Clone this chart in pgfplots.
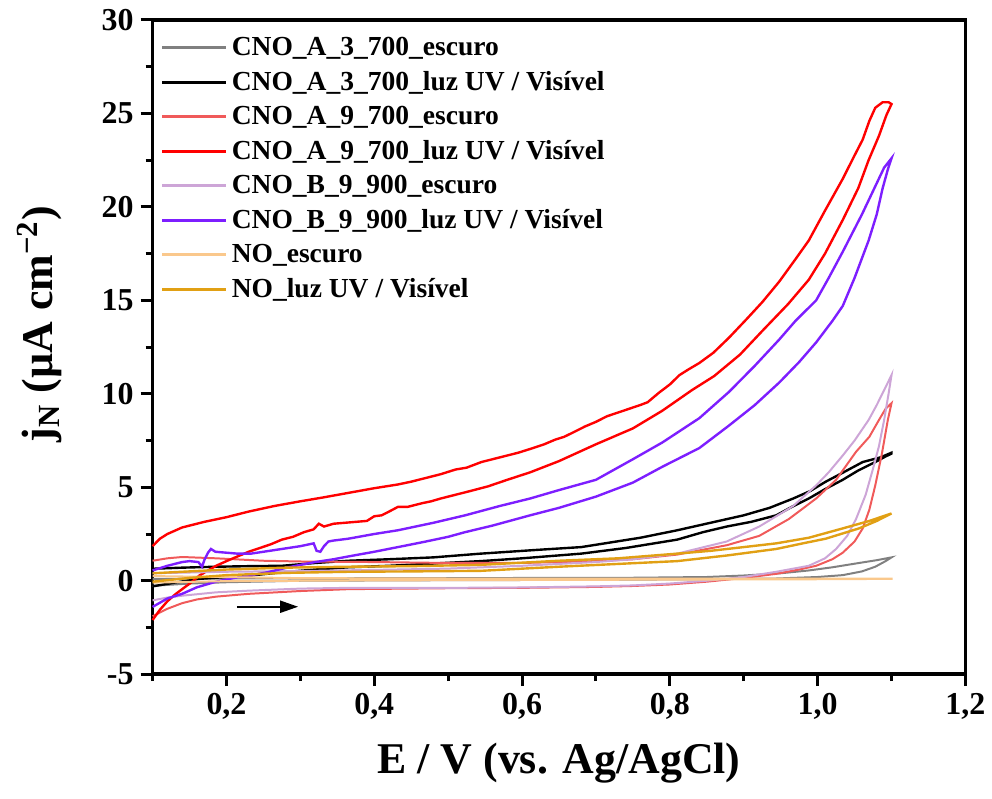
\documentclass[border=0pt]{standalone}
\usepackage{pgfplots}
\pgfplotsset{compat=1.18}
\usepackage{fontspec}
\setmainfont{Liberation Serif}
\usetikzlibrary{arrows.meta}
\definecolor{cgray}{RGB}{128,128,128}
\definecolor{csalmon}{RGB}{240,90,90}
\definecolor{cred}{RGB}{255,0,0}
\definecolor{clilac}{RGB}{205,165,215}
\definecolor{cpurple}{RGB}{125,30,255}
\definecolor{clorange}{RGB}{250,200,140}
\definecolor{cgold}{RGB}{225,160,20}
\begin{document}
\begin{tikzpicture}
\begin{axis}[
  scale only axis,
  width=407.5pt, height=328pt,
  xmin=0.1, xmax=1.2, ymin=-5, ymax=30,
  xtick={0.2,0.4,0.6,0.8,1.0,1.2},
  xticklabels={{0,2},{0,4},{0,6},{0,8},{1,0},{1,2}},
  minor xtick={0.1,0.3,0.5,0.7,0.9,1.1},
  ytick={-5,0,5,10,15,20,25,30},
  yticklabels={-5,0,5,10,15,20,25,30},
  minor ytick={-2.5,2.5,7.5,12.5,17.5,22.5,27.5},
  xtick pos=left, ytick pos=left,
  tick align=outside,
  major tick length=6pt, minor tick length=3.5pt,
  every tick/.style={black, line width=1.5pt},
  axis line style={line width=1.8pt},
  ticklabel style={font=\fontsize{16}{18}\selectfont\bfseries},
  xlabel={E / V (vs. Ag/AgCl)},
  ylabel={j\textsubscript{N} (µA cm\textsuperscript{−2})},
  label style={font=\fontsize{22}{26}\selectfont\bfseries},
  xlabel style={at={(axis description cs:0.5,0)}, anchor=center, yshift=-44.5pt},
  ylabel style={at={(axis description cs:0,0.535)}, anchor=center, yshift=56.5pt},
  legend style={at={(0,1)}, anchor=north west, xshift=1pt, yshift=-4.5pt,
    draw=none, fill=none, font=\fontsize{13.8}{16}\selectfont\bfseries,
    row sep=2.4pt},
  legend cell align=left,
  legend image code/.code={\draw[#1, line width=1.5pt] (0pt,0pt) -- (32pt,0pt);},
  clip=false,
]
\path (rel axis cs:-0.1877,-0.1905) rectangle (rel axis cs:1.0294,1.0305);

% CNO_A_3_700 escuro
\addplot[cgray, line width=1pt] coordinates {
(0.100,-0.27) (0.150,-0.15) (0.200,-0.08) (0.300,0.00) (0.500,0.03) (0.700,0.05) (0.850,0.08) (0.944,0.12) (1.000,0.20) (1.034,0.30) (1.060,0.50) (1.078,0.75) (1.092,1.05) (1.100,1.25)
(1.080,1.10) (1.056,0.95) (1.020,0.72) (0.988,0.55) (0.950,0.40) (0.900,0.28) (0.850,0.20) (0.750,0.16) (0.500,0.14) (0.300,0.13) (0.200,0.12) (0.100,0.10)};
\addlegendentry{CNO\_A\_3\_700\_escuro}

% CNO_A_3_700 luz
\addplot[black, line width=1.2pt] coordinates {
(0.100,-0.30) (0.130,-0.10) (0.163,0.10) (0.200,0.20) (0.230,0.27) (0.275,0.45) (0.320,0.60) (0.365,0.72) (0.420,0.80) (0.480,0.92) (0.544,1.05) (0.600,1.20) (0.680,1.45) (0.740,1.75) (0.810,2.20) (0.845,2.60) (0.877,2.90) (0.910,3.15) (0.944,3.50) (0.965,3.95) (0.988,4.40) (1.010,4.90) (1.034,5.40) (1.055,5.90) (1.078,6.35) (1.092,6.65) (1.100,6.80)
(1.100,6.85) (1.085,6.60) (1.061,6.35) (1.035,5.80) (1.011,5.30) (0.990,4.80) (0.967,4.40) (0.935,3.90) (0.900,3.50) (0.855,3.10) (0.810,2.70) (0.760,2.30) (0.720,2.05) (0.680,1.80) (0.620,1.65) (0.544,1.45) (0.480,1.25) (0.420,1.15) (0.365,1.07) (0.320,0.95) (0.275,0.80) (0.230,0.78) (0.186,0.75) (0.140,0.70) (0.100,0.64)};
\addlegendentry{CNO\_A\_3\_700\_luz UV / Visível}

% CNO_A_9_700 escuro
\addplot[csalmon, line width=1pt] coordinates {
(0.100,-1.90) (0.120,-1.50) (0.140,-1.20) (0.160,-1.00) (0.186,-0.85) (0.230,-0.70) (0.300,-0.55) (0.365,-0.45) (0.500,-0.40) (0.600,-0.38) (0.700,-0.33) (0.750,-0.28) (0.800,-0.20) (0.850,-0.05) (0.900,0.15) (0.944,0.37) (0.975,0.60) (0.998,0.80) (1.020,1.15) (1.034,1.50) (1.050,2.10) (1.061,2.80) (1.070,3.80) (1.078,5.10) (1.087,6.80) (1.095,8.60) (1.100,9.50)
(1.092,9.20) (1.083,8.60) (1.070,7.70) (1.052,6.90) (1.025,5.40) (0.998,4.40) (0.961,3.30) (0.921,2.40) (0.877,1.90) (0.810,1.40) (0.750,1.15) (0.700,1.05) (0.600,0.95) (0.500,0.95) (0.400,1.00) (0.300,1.03) (0.250,1.07) (0.186,1.20) (0.140,1.27) (0.120,1.20) (0.100,1.07)};
\addlegendentry{CNO\_A\_9\_700\_escuro}

% CNO_A_9_700 luz
\addplot[cred, line width=1.2pt] coordinates {
(0.100,-2.10) (0.110,-1.55) (0.120,-1.10) (0.130,-0.75) (0.140,-0.45) (0.152,-0.10) (0.163,0.27) (0.175,0.55) (0.186,0.80) (0.200,1.05) (0.215,1.30) (0.230,1.55) (0.245,1.75) (0.260,1.95) (0.275,2.20) (0.290,2.35) (0.305,2.60) (0.318,2.75) (0.325,3.05) (0.332,2.90) (0.345,3.05) (0.360,3.10) (0.375,3.15) (0.390,3.20) (0.400,3.45) (0.410,3.50) (0.420,3.70) (0.432,3.95) (0.445,3.95) (0.455,4.05) (0.465,4.15) (0.477,4.25) (0.490,4.40) (0.510,4.60) (0.530,4.80) (0.554,5.05) (0.580,5.40) (0.611,5.80) (0.650,6.40) (0.700,7.30) (0.750,8.15) (0.790,9.10) (0.830,10.20) (0.860,10.95) (0.895,12.10) (0.926,13.40) (0.960,14.80) (0.988,16.10) (1.010,17.50) (1.034,19.30) (1.055,21.00) (1.069,22.50) (1.083,23.80) (1.093,24.90) (1.100,25.50)
(1.096,25.60) (1.088,25.60) (1.078,25.30) (1.070,24.60) (1.061,23.60) (1.048,22.60) (1.034,21.50) (1.010,19.80) (0.988,18.20) (0.970,17.20) (0.948,16.00) (0.925,14.90) (0.904,14.00) (0.880,13.00) (0.859,12.20) (0.840,11.65) (0.825,11.30) (0.813,11.00) (0.800,10.50) (0.785,10.05) (0.770,9.55) (0.760,9.40) (0.745,9.20) (0.730,9.00) (0.715,8.80) (0.700,8.50) (0.685,8.25) (0.670,7.95) (0.657,7.70) (0.645,7.55) (0.630,7.30) (0.611,7.05) (0.595,6.85) (0.580,6.70) (0.565,6.55) (0.545,6.35) (0.525,6.05) (0.510,5.95) (0.490,5.70) (0.470,5.50) (0.450,5.30) (0.432,5.15) (0.400,4.95) (0.365,4.70) (0.330,4.45) (0.300,4.25) (0.265,4.00) (0.230,3.70) (0.200,3.40) (0.170,3.15) (0.140,2.85) (0.120,2.50) (0.110,2.25) (0.100,1.85)};
\addlegendentry{CNO\_A\_9\_700\_luz UV / Visível}

% CNO_B_9_900 escuro
\addplot[clilac, line width=1pt] coordinates {
(0.100,-1.05) (0.120,-0.90) (0.140,-0.80) (0.186,-0.62) (0.230,-0.53) (0.300,-0.42) (0.365,-0.38) (0.500,-0.38) (0.600,-0.36) (0.700,-0.30) (0.750,-0.25) (0.800,-0.15) (0.850,0.00) (0.900,0.20) (0.944,0.48) (0.988,0.80) (1.010,1.20) (1.025,1.70) (1.040,2.40) (1.052,3.30) (1.065,4.60) (1.075,6.00) (1.083,7.20) (1.090,8.60) (1.096,10.00) (1.100,11.00)
(1.090,10.20) (1.080,9.40) (1.069,8.60) (1.050,7.50) (1.034,6.70) (1.015,5.80) (0.998,5.10) (0.967,4.00) (0.921,2.90) (0.877,2.10) (0.810,1.45) (0.750,1.15) (0.700,1.00) (0.600,0.80) (0.500,0.65) (0.400,0.58) (0.300,0.52) (0.200,0.48) (0.100,0.40)};
\addlegendentry{CNO\_B\_9\_900\_escuro}

% CNO_B_9_900 luz
\addplot[cpurple, line width=1.2pt] coordinates {
(0.100,-1.40) (0.120,-0.95) (0.140,-0.70) (0.160,-0.35) (0.186,-0.05) (0.210,0.15) (0.230,0.27) (0.255,0.45) (0.275,0.64) (0.300,0.85) (0.320,1.00) (0.345,1.15) (0.365,1.30) (0.400,1.55) (0.432,1.80) (0.470,2.10) (0.500,2.35) (0.523,2.60) (0.560,2.95) (0.611,3.50) (0.650,3.90) (0.700,4.50) (0.750,5.25) (0.790,6.10) (0.840,7.10) (0.880,8.30) (0.915,9.40) (0.948,10.60) (0.975,11.70) (0.998,12.75) (1.020,13.90) (1.034,14.70) (1.050,16.20) (1.069,18.20) (1.080,19.60) (1.088,21.00) (1.095,22.00) (1.100,22.60)
(1.090,22.10) (1.078,21.10) (1.060,19.60) (1.034,17.60) (1.015,16.20) (0.998,15.00) (0.970,13.90) (0.948,12.90) (0.915,11.50) (0.880,10.10) (0.840,8.70) (0.790,7.40) (0.750,6.50) (0.700,5.40) (0.650,4.85) (0.611,4.40) (0.570,4.00) (0.523,3.50) (0.480,3.10) (0.432,2.70) (0.400,2.50) (0.365,2.25) (0.345,2.15) (0.338,2.10) (0.332,1.85) (0.327,1.55) (0.322,1.60) (0.318,2.00) (0.300,1.85) (0.275,1.70) (0.250,1.55) (0.233,1.45) (0.215,1.45) (0.200,1.50) (0.185,1.55) (0.179,1.70) (0.175,1.50) (0.170,1.10) (0.167,0.75) (0.162,1.00) (0.150,1.05) (0.140,1.00) (0.120,0.80) (0.100,0.55)};
\addlegendentry{CNO\_B\_9\_900\_luz UV / Visível}

% NO escuro
\addplot[clorange, line width=1pt] coordinates {
(0.100,-0.10) (0.200,-0.02) (0.400,0.02) (0.700,0.05) (1.000,0.08) (1.100,0.10)
(1.100,0.12) (0.800,0.12) (0.500,0.12) (0.300,0.14) (0.100,0.25)};
\addlegendentry{NO\_escuro}

% NO luz
\addplot[cgold, line width=1.2pt] coordinates {
(0.100,-0.05) (0.150,0.15) (0.200,0.30) (0.280,0.42) (0.365,0.48) (0.450,0.50) (0.544,0.53) (0.650,0.75) (0.730,0.90) (0.810,1.05) (0.877,1.35) (0.944,1.70) (0.980,2.00) (1.011,2.25) (1.056,2.80) (1.080,3.20) (1.100,3.60)
(1.070,3.20) (1.034,2.80) (0.988,2.30) (0.944,2.00) (0.900,1.80) (0.855,1.60) (0.810,1.45) (0.730,1.20) (0.650,1.07) (0.544,0.85) (0.450,0.78) (0.365,0.75) (0.280,0.70) (0.200,0.60) (0.150,0.50) (0.100,0.40)};
\addlegendentry{NO\_luz UV / Visível}

\draw[-{Triangle[length=9pt,width=6pt]}, black, line width=1pt] (axis cs:0.214,-1.39) -- (axis cs:0.297,-1.39);
\end{axis}
\end{tikzpicture}
\end{document}
